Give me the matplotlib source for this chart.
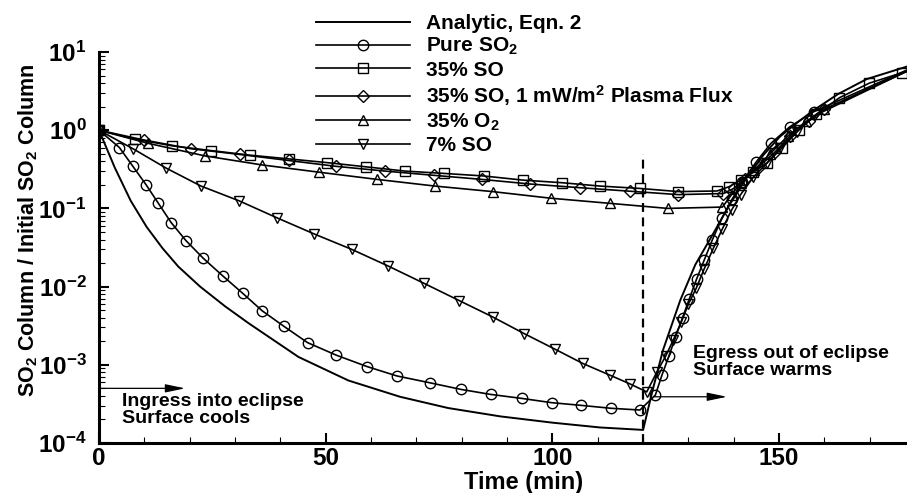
import matplotlib
matplotlib.use("Agg")
import matplotlib.pyplot as plt
import numpy as np
from matplotlib.ticker import LogLocator, MultipleLocator, FuncFormatter, NullFormatter

plt.rcParams['font.family'] = ['Liberation Sans', 'DejaVu Sans']
plt.rcParams['font.weight'] = 'bold'
plt.rcParams['mathtext.fontset'] = 'custom'
plt.rcParams['mathtext.rm'] = 'Liberation Sans:bold'
plt.rcParams['mathtext.it'] = 'Liberation Sans:bold'
plt.rcParams['mathtext.bf'] = 'Liberation Sans:bold'

# ---- data ----
t_analytic = [0, 3.5, 7, 10.5, 14, 17.5, 22.3, 27.8, 33, 44, 55, 66.4, 77, 88.5, 100, 110.5, 120,
              122, 124.4, 128.2, 131.5, 135.5, 139, 142.9, 146.5, 150.2, 154, 157.6, 163, 169.3, 178.5]
y_analytic = [1, 0.33, 0.125, 0.058, 0.031, 0.018, 0.010, 0.0056, 0.0034, 0.00126, 0.00063, 0.00039,
              0.00028, 0.000219, 0.000182, 0.000158, 0.000147,
              0.00045, 0.00155, 0.0067, 0.019, 0.048, 0.11, 0.25, 0.48, 0.83, 1.25, 1.8, 2.9, 4.5, 6.6]

t_pure_so2 = [0, 4.5, 7.4, 10.4, 13.1, 15.9, 19.2, 23.0, 27.3, 31.7, 36.0, 40.8, 46.0, 52.3, 59.1, 65.7,
              72.9, 79.8, 86.4, 93.2, 99.8, 106.3, 112.9, 119.3,
              122.7, 124.2, 125.7, 127.2, 128.7, 130.2, 131.8, 133.5, 135.3, 137.4, 139.6, 141.9, 144.9,
              148.2, 152.3, 157.6, 178.5]
y_pure_so2 = [1.0, 0.60, 0.35, 0.20, 0.116, 0.066, 0.0386, 0.023, 0.0137, 0.0082, 0.0049, 0.0031, 0.00192,
              0.00133, 0.00095, 0.00072, 0.00059, 0.000485, 0.000418, 0.000372, 0.000328, 0.000303,
              0.000278, 0.000264,
              0.00041, 0.00075, 0.0013, 0.0023, 0.0040, 0.0070, 0.0125, 0.022, 0.04, 0.075, 0.13, 0.22, 0.39,
              0.68, 1.1, 1.72, 6.0]

t_so35 = [0, 7.9, 16.2, 24.6, 33.2, 41.8, 50.3, 58.9, 67.5, 76.1, 84.8, 93.5, 102.1, 110.5, 119.3, 127.8,
          136.3, 139, 141.5, 144.3, 147.3, 150.6, 154.3, 158.2, 163.3, 169.9, 177, 178.5]
y_so35 = [1, 0.77, 0.63, 0.55, 0.48, 0.43, 0.385, 0.34, 0.30, 0.28, 0.26, 0.23, 0.213, 0.193, 0.18, 0.164,
          0.167, 0.19, 0.23, 0.29, 0.38, 0.59, 1.0, 1.6, 2.6, 4.0, 5.4, 5.7]

t_so35_plasma = [0, 9.9, 20.2, 31.0, 41.8, 52.3, 63.1, 73.8, 84.4, 95.1, 106.0, 117.0, 127.8, 137.7,
                 140, 142.5, 145.5, 149, 152.5, 156.5, 160, 178.5]
y_so35_plasma = [1, 0.75, 0.58, 0.49, 0.41, 0.345, 0.30, 0.265, 0.235, 0.205, 0.184, 0.166, 0.150, 0.155,
                 0.18, 0.24, 0.34, 0.52, 0.85, 1.3, 1.85, 5.8]

t_o2_35 = [0, 10.8, 23.3, 35.9, 48.6, 61.3, 74.1, 86.8, 99.6, 112.7, 125.4, 137.5,
           139.5, 141.5, 144.5, 148, 152, 156, 160, 178.5]
y_o2_35 = [1, 0.68, 0.47, 0.36, 0.29, 0.235, 0.193, 0.164, 0.135, 0.116, 0.10, 0.104,
           0.15, 0.21, 0.31, 0.5, 0.85, 1.3, 1.85, 5.8]

t_so7 = [0, 7.6, 14.7, 22.5, 30.9, 39.2, 47.5, 55.7, 63.8, 71.7, 79.5, 86.8, 93.8, 100.6, 106.7, 112.6,
         117.1, 120.8, 123, 125, 126.7, 128.4, 130, 131.7, 133.5, 135.5, 137.5, 139.5, 141.5, 144.3,
         147.3, 150.2, 153.9, 158, 178.5]
y_so7 = [1, 0.575, 0.33, 0.193, 0.125, 0.076, 0.047, 0.030, 0.0183, 0.011, 0.0066, 0.0041, 0.0025,
         0.00158, 0.00104, 0.00074, 0.00057, 0.00045, 0.0008, 0.0013, 0.0021, 0.0035, 0.006, 0.0095,
         0.017, 0.031, 0.055, 0.095, 0.15, 0.25, 0.38, 0.59, 0.96, 1.55, 5.8]

fig = plt.figure(figsize=(9.07, 4.93), dpi=100)
ax = fig.add_axes([99/907, 50/493, 808/907, 391/493])

ax.plot(t_analytic, y_analytic, color="black", linewidth=1.4, label="Analytic, Eqn. 2")

series = [
    (t_pure_so2, y_pure_so2, "o", "Pure SO$_2$"),
    (t_so35, y_so35, "s", "35% SO"),
    (t_so35_plasma, y_so35_plasma, "D", "35% SO, 1 mW/m$^2$ Plasma Flux"),
    (t_o2_35, y_o2_35, "^", "35% O$_2$"),
    (t_so7, y_so7, "v", "7% SO"),
]
msize = {"o": 7.5, "s": 6.5, "D": 6.0, "^": 7.5, "v": 7.5}
for t, y, m, lab in series:
    ax.plot(t, y, color="black", linewidth=1.2, marker=m, markersize=msize[m],
            markerfacecolor="none", markeredgecolor="black", markeredgewidth=1.0,
            markevery=slice(0, len(t) - 1), label=lab)

# end of ingress
ax.plot([120, 120], [1e-4, 0.5], color="black", linestyle=(0, (4, 2.5)), linewidth=1.6)

ax.annotate("", xy=(19, 5e-4), xytext=(0, 5e-4),
            arrowprops=dict(arrowstyle="-|>,head_length=1.2,head_width=0.25", color="black", lw=0.9,
                            shrinkA=0, shrinkB=0))
ax.text(5, 4.4e-4, "Ingress into eclipse\nSurface cools", fontsize=14, fontweight="bold",
        va="top", ha="left", linespacing=1.0)

ax.annotate("", xy=(138.5, 3.9e-4), xytext=(122.5, 3.9e-4),
            arrowprops=dict(arrowstyle="-|>,head_length=1.2,head_width=0.25", color="black", lw=0.9,
                            shrinkA=0, shrinkB=0))
ax.text(131, 1.8e-3, "Egress out of eclipse\nSurface warms", fontsize=14, fontweight="bold",
        va="top", ha="left", linespacing=1.0)

ax.set_yscale("log")
ax.set_xlim(0, 178.2)
ax.set_ylim(1e-4, 10)

ax.xaxis.set_major_locator(MultipleLocator(50))
ax.xaxis.set_minor_locator(MultipleLocator(10))
ax.yaxis.set_major_locator(LogLocator(base=10, numticks=10))
ax.yaxis.set_minor_locator(LogLocator(base=10, subs=np.arange(2, 10), numticks=20))
ax.yaxis.set_major_formatter(FuncFormatter(lambda v, p: r"$10^{%d}$" % round(np.log10(v))))
ax.yaxis.set_minor_formatter(NullFormatter())

ax.tick_params(which="major", direction="in", length=7, width=1.5, labelsize=17.5, pad=3)
ax.tick_params(which="minor", direction="in", length=4, width=0.8)
ax.tick_params(axis="y", which="major", pad=9)

for s in ["top", "right"]:
    ax.spines[s].set_visible(False)
for s in ["left", "bottom"]:
    ax.spines[s].set_linewidth(2.2)

ax.set_xlabel("Time (min)", fontsize=17, fontweight="bold", va="top")
ax.xaxis.set_label_coords(0.525, -0.072)
ax.set_ylabel("SO$_2$ Column / Initial SO$_2$ Column", fontsize=15.5, fontweight="bold")
ax.yaxis.set_label_coords(-0.073, 0.545)

leg = ax.legend(loc="upper left", bbox_to_anchor=(316/907, 0.972), bbox_transform=fig.transFigure,
                frameon=False, fontsize=15, handlelength=4.5, handletextpad=0.8, labelspacing=0.16,
                borderpad=0, borderaxespad=0)
for txt in leg.get_texts():
    txt.set_fontweight("bold")

fig.savefig("out.png", dpi=100)
